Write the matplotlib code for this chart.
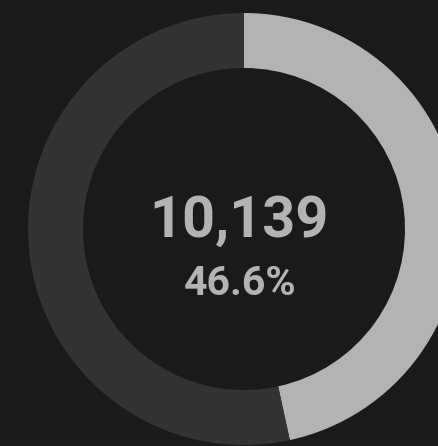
import matplotlib
matplotlib.use("Agg")
import matplotlib.pyplot as plt

labels = ["Selected", "Other"]
values = [10139, 11619]
center_value = "10,139"
center_pct = "46.6%"
colors = ["#b3b3b3", "#333333"]
bg = "#1a1a1a"

W, H = 438, 446
fig = plt.figure(figsize=(W / 100, H / 100), dpi=100, facecolor=bg)
ax = fig.add_axes([0, 0, 1, 1])
ax.set_facecolor(bg)

cx, cy = 244, H - 229
R = 216
ax.pie(values, colors=colors, startangle=90, counterclock=False,
       center=(cx, cy), radius=R, frame=True,
       wedgeprops=dict(width=55, linewidth=0))
ax.set_xlim(0, W)
ax.set_ylim(0, H)
ax.set_aspect("equal")
ax.axis("off")

ax.text(239, H - 221, center_value, ha="center", va="center",
        fontsize=41.5, fontweight="bold", color="#b3b3b3", family="Roboto")
ax.text(240, H - 284, center_pct, ha="center", va="center",
        fontsize=29.5, fontweight="bold", color="#b3b3b3", family="Roboto")

fig.savefig("out.png", dpi=100, facecolor=bg)
